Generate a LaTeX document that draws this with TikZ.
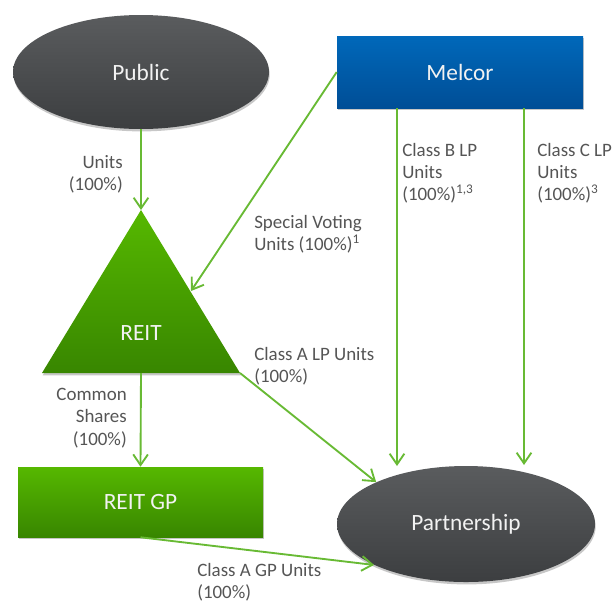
\documentclass[tikz,border=0pt]{standalone}
\usepackage{fontspec}
\setmainfont{Carlito}
\usetikzlibrary{arrows.meta,shapes.geometric,shadows}
\definecolor{arrowgreen}{RGB}{104,186,52}
\definecolor{labelgray}{RGB}{85,85,85}
\definecolor{nodewhite}{RGB}{242,242,242}
\definecolor{grayTop}{RGB}{90,92,94}
\definecolor{grayBot}{RGB}{60,62,64}
\definecolor{blueTop}{RGB}{0,104,186}
\definecolor{blueBot}{RGB}{0,78,150}
\definecolor{greenTop}{RGB}{86,184,0}
\definecolor{greenBot}{RGB}{56,134,0}
\begin{document}
\begin{tikzpicture}[x=0.75pt,y=-0.75pt,
  shad/.style={drop shadow={shadow xshift=0.5pt,shadow yshift=-1.8pt,opacity=0.22,fill=black}},
  nodetext/.style={font=\fontsize{17.5}{20}\selectfont,text=nodewhite,inner sep=0pt},
  ell/.style={ellipse,shad,top color=grayTop,bottom color=grayBot,nodetext},
  box/.style={rectangle,shad,nodetext},
  lbl/.style={font=\fontsize{14.2}{16.7}\selectfont,text=labelgray,inner sep=0pt,anchor=north west,align=left},
  conn/.style={draw=arrowgreen,line width=1.4pt,-{Straight Barb[length=8pt,width=11pt,line width=1.4pt]}}]
\useasboundingbox (0,0) rectangle (616,604);

% nodes
\node[ell,minimum width=192pt,minimum height=85.5pt] (public) at (141,72) {Public};
\node[box,top color=blueTop,bottom color=blueBot,minimum width=184.5pt,minimum height=54pt] (melcor) at (460,72) {Melcor};
\node[box,top color=greenTop,bottom color=greenBot,minimum width=183.75pt,minimum height=52.5pt] (reitgp) at (140.5,502) {REIT GP};
\node[ell,minimum width=193.5pt,minimum height=87pt] (partnership) at (466,524) {Partnership};

% REIT triangle
\coordinate (reitApex) at (141,210);
\coordinate (reitL) at (42,373);
\coordinate (reitR) at (240,373);
\coordinate (reitBase) at (141,373);
\coordinate (reitEdge) at (191,291);
\shade[shad,top color=greenTop,bottom color=greenBot] (reitApex) -- (reitR) -- (reitL) -- cycle;
\node[nodetext] (reit) at (141,333) {REIT};

% free ends
\coordinate (bEnd) at (397,466);
\coordinate (cEnd) at (524,465);

% connectors
\draw[conn] (public.south) -- (reitApex);
\draw[conn] (melcor.west) -- (reitEdge);
\draw[conn] (melcor.south -| bEnd) -- (bEnd);
\draw[conn] (melcor.south -| cEnd) -- (cEnd);
\draw[conn] (reitR) -- (partnership.155.7);
\draw[conn] (reitBase) -- (reitgp.north);
\draw[conn] (reitgp.south) -- (partnership.204);

% labels
\node[lbl,anchor=north east,align=right] (lUnits) at (123,155) {Units\\(100\%)};
\node[lbl] (lB) at (402,143) {Class B LP\\Units\\(100\%)\textsuperscript{1,3}};
\node[lbl] (lC) at (537,143) {Class C LP\\Units\\(100\%)\textsuperscript{3}};
\node[lbl] (lSV) at (254,215) {Special Voting\\Units (100\%)\textsuperscript{1}};
\node[lbl] (lA) at (254,347) {Class A LP Units\\(100\%)};
\node[lbl,anchor=north east,align=right] (lCS) at (127,388) {Common\\Shares\\(100\%)};
\node[lbl] (lGP) at (197,563) {Class A GP Units\\(100\%)};
\end{tikzpicture}
\end{document}
